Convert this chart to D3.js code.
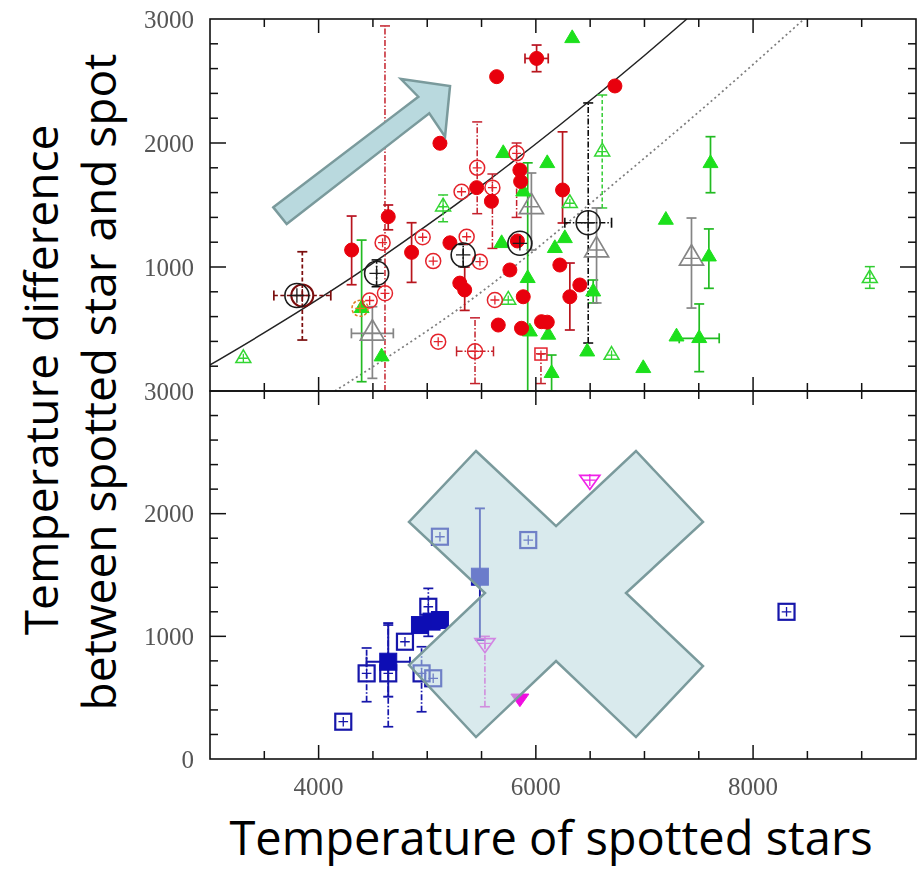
<!DOCTYPE html>
<html>
<head>
<meta charset="utf-8">
<script src="https://cdn.jsdelivr.net/npm/d3@7"></script>
<style>
  html, body { margin: 0; padding: 0; background: #fff; }
  svg { display: block; }
</style>
</head>
<body>
<svg id="chart" width="917" height="872"></svg>
<script>
// ---- data: [T_star, dT, errLow, errHigh, errT] (null = no bar) ----
const xTicksMajor = [4000, 6000, 8000];
const yTickLabelsTop = [1000, 2000, 3000];
const yTickLabelsBot = [0, 1000, 2000, 3000];

// upper panel
const redFilled = [
  [6007, 2682, 2575, 2790, 107], [5639, 2535], [5117, 1998],
  [4641, 1406, 1300, 1500], [4304, 1137, 857, 1411], [4856, 1118, 876, 1357],
  [5455, 1640], [5209, 1195], [5300, 870], [5345, 815, 650, 1000],
  [5591, 1530], [5654, 532], [5761, 976], [5884, 760], [5868, 506],
  [6052, 559], [6105, 555], [6313, 760, 492, 1032], [6405, 855],
  [6246, 1621, 1355, 2090], [6221, 1016], [6728, 2460], [5830, 1210],
  [5853, 1782], [5860, 1690]
];
const redOpen = [
  [4958, 1240], [5055, 1048], [4589, 1196], [4611, 788, 0, 2944],
  [5316, 1607], [5460, 1800, 1430, 2170], [5363, 1244], [5485, 1043],
  [5600, 1640, 1150, 1750], [5623, 734], [5101, 398],
  [5440, 320, 60, 590, 170], [5823, 1917, 1400, 2000], [4470, 730]
];
const orangeOpen = [[4381, 667]];
const redSquareOpen = [[6047, 298, 60, 300]];
const greenFilled = [
  [6335, 2844], [6105, 1836], [5884, 1607], [6175, 1151], [6267, 1231],
  [6528, 801, 710, 895], [6473, 317], [6989, 183], [7197, 1379],
  [7608, 1836, 1599, 2051], [7593, 1083, 828, 1307], [7295, 438],
  [7504, 425, 156, 702, 184], [4580, 277], [5925, 909, 0, 1840],
  [6145, 143, 0, 290], [5685, 1191], [5700, 1917], [5945, 478],
  [6114, 452], [4396, 667, 75, 1217]
];
const greenOpen = [
  [5146, 1486, 1365, 1581], [3307, 264], [6611, 1930, 1476, 2387],
  [6313, 1514], [6697, 290], [9075, 909, 828, 1003], [5746, 734]
];
const blackOpen = [
  [4534, 949, 841, 1057], [5331, 1097, 1003, 1182], [5853, 1191],
  [6482, 1357, 387, 2323, 215], [3800, 770]
];
const darkRedOpen = [[3850, 770, 411, 1123, 262]];
const greyOpen = [
  [4495, 465, 102, 680, 193], [5959, 1486, 1137, 1758],
  [6559, 1137, 710, 1476], [7433, 1070, 669, 1395]
];
// empirical relation (solid) and shifted relation (dotted)
const fitSolid = [[3000, 210], [3500, 470], [4200, 855], [5000, 1337], [5500, 1657], [6220, 2145], [7000, 2706], [7390, 3000]];
const fitDotted = [[4150, 0], [4700, 310], [5300, 669], [6000, 1144], [6617, 1597], [7500, 2250], [8470, 3000]];

// lower panel
const navyOpen = [
  [4227, 304], [4442, 698, 467, 905], [4641, 698, 263, 1092], [4795, 956],
  [5010, 1241, 1000, 1391], [4948, 698, 385, 915], [5055, 658],
  [5117, 1812], [5930, 1785], [8308, 1200]
];
const navyFilled = [
  [4641, 793, 508, 1108, 200], [4933, 1092], [5040, 1120], [5117, 1133],
  [5485, 1486, 970, 2043]
];
const magentaOpen = [[5531, 943, 426, 1000], [6497, 2274]];
const magentaFilled = [[5853, 495]];

// annotation shapes, in chart units (T, dT)
const arrowShape = [[3583, 1481], [4918, 2373], [4758, 2516], [5210, 2460], [5164, 2051], [5019, 2240], [3706, 1347]];
const crossShape = [[5449, 2511], [6186, 1899], [6922, 2511], [7539, 1932], [6830, 1353], [7539, 758],
                    [6922, 179], [6186, 799], [5449, 179], [4832, 766], [5532, 1353], [4832, 1932]];

// ---- layout ----
const L = 210, R = 916, TOP = 19, MID = 391, BOT = 759;
const svg = d3.select("#chart");
const x = d3.scaleLinear().domain([3000, 9500]).range([L, R]);
const yTop = d3.scaleLinear().domain([0, 3000]).range([MID, TOP]);
const yBot = d3.scaleLinear().domain([0, 3000]).range([BOT, MID]);

const defs = svg.append("defs");
defs.append("clipPath").attr("id", "clipTop").append("rect")
  .attr("x", L).attr("y", TOP).attr("width", R - L).attr("height", MID - TOP);
defs.append("clipPath").attr("id", "clipBot").append("rect")
  .attr("x", L).attr("y", MID).attr("width", R - L).attr("height", BOT - MID);
// slight softening of the plotted symbols
defs.append("filter").attr("id", "soft").append("feGaussianBlur").attr("stdDeviation", 0.45);

const gTop = svg.append("g").attr("clip-path", "url(#clipTop)").append("g").attr("filter", "url(#soft)");
const gBot = svg.append("g").attr("clip-path", "url(#clipBot)").append("g").attr("filter", "url(#soft)");

// fit curves
const lineTop = d3.line().x(d => x(d[0])).y(d => yTop(d[1])).curve(d3.curveMonotoneX);
gTop.append("path").attr("d", lineTop(fitDotted)).attr("fill", "none")
  .attr("stroke", "#7d7d7d").attr("stroke-width", 1.7).attr("stroke-dasharray", "2,3");
gTop.append("path").attr("d", lineTop(fitSolid)).attr("fill", "none")
  .attr("stroke", "#222").attr("stroke-width", 1.5);

const DASHDOT = "6,2,1.5,2", DASHED = "4,2.5";

function errorBars(g, y, rows, color, dash, width) {
  const cap = 5;
  rows.forEach(r => {
    const [t, v, lo, hi, xe] = r;
    if (lo != null && hi != null) {
      g.append("line").attr("x1", x(t)).attr("x2", x(t)).attr("y1", y(lo)).attr("y2", y(hi))
        .attr("stroke", color).attr("stroke-width", width).attr("stroke-dasharray", dash);
      [lo, hi].forEach(e => g.append("line").attr("x1", x(t) - cap).attr("x2", x(t) + cap)
        .attr("y1", y(e)).attr("y2", y(e)).attr("stroke", color).attr("stroke-width", width));
    }
    if (xe != null) {
      g.append("line").attr("x1", x(t - xe)).attr("x2", x(t + xe)).attr("y1", y(v)).attr("y2", y(v))
        .attr("stroke", color).attr("stroke-width", width).attr("stroke-dasharray", dash);
      [t - xe, t + xe].forEach(e => g.append("line").attr("x1", x(e)).attr("x2", x(e))
        .attr("y1", y(v) - cap).attr("y2", y(v) + cap).attr("stroke", color).attr("stroke-width", width));
    }
  });
}

function triPath(w, h, down) {
  const s = down ? -1 : 1;
  return `M0,${-s * 2 * h / 3}L${w},${s * h / 3}L${-w},${s * h / 3}Z`;
}

function markers(g, y, rows, shape, opt) {
  rows.forEach(r => {
    const cx = x(r[0]), cy = y(r[1]);
    const m = g.append("g").attr("transform", `translate(${cx},${cy})`);
    let el;
    if (shape === "circle") el = m.append("circle").attr("r", opt.size);
    else if (shape === "square") el = m.append("rect").attr("x", -opt.size).attr("y", -opt.size)
      .attr("width", 2 * opt.size).attr("height", 2 * opt.size);
    else if (shape === "tri") el = m.append("path").attr("d", triPath(opt.size, opt.size * 1.7, false));
    else if (shape === "triDown") el = m.append("path").attr("d", triPath(opt.size, opt.size * 1.4, true));
    if (opt.filled) el.attr("fill", opt.color).attr("stroke", opt.color).attr("stroke-width", 1);
    else {
      el.attr("fill", "none").attr("stroke", opt.color).attr("stroke-width", opt.sw || 1.5);
      if (opt.dash) el.attr("stroke-dasharray", opt.dash);
      const c = opt.size * 0.6;
      m.append("path").attr("d", `M${-c},0H${c}M0,${-c}V${c}`)
        .attr("stroke", opt.color).attr("stroke-width", 1.3);
    }
  });
}

// ---- upper panel marks ----
errorBars(gTop, yTop, greenOpen, "#33cc33", DASHED, 1.5);
errorBars(gTop, yTop, greenFilled, "#22bb22", null, 1.7);
errorBars(gTop, yTop, greyOpen, "#858585", null, 1.7);
errorBars(gTop, yTop, redOpen, "#c4202c", DASHDOT, 1.5);
errorBars(gTop, yTop, redSquareOpen, "#c4202c", DASHDOT, 1.5);
errorBars(gTop, yTop, redFilled, "#b8141e", null, 1.7);
errorBars(gTop, yTop, darkRedOpen, "#7a0a0a", DASHED, 1.7);
errorBars(gTop, yTop, blackOpen, "#111", DASHDOT, 1.6);

markers(gTop, yTop, greyOpen, "tri", { size: 12, color: "#858585", sw: 1.7 });
markers(gTop, yTop, greenOpen, "tri", { size: 7.5, color: "#33d633" });
markers(gTop, yTop, greenFilled, "tri", { size: 7.5, color: "#1fe01f", filled: true });
markers(gTop, yTop, orangeOpen, "circle", { size: 8, color: "#e07a20", dash: "3,2" });
markers(gTop, yTop, redOpen, "circle", { size: 7.5, color: "#e4242c" });
markers(gTop, yTop, redSquareOpen, "square", { size: 6, color: "#e4242c" });
markers(gTop, yTop, redFilled, "circle", { size: 7, color: "#e80008", filled: true });
markers(gTop, yTop, darkRedOpen, "circle", { size: 11, color: "#7a0a0a", sw: 2 });
markers(gTop, yTop, blackOpen, "circle", { size: 12, color: "#1a1a1a", sw: 1.6 });

// ---- lower panel marks ----
errorBars(gBot, yBot, magentaOpen, "#ee33dd", DASHDOT, 1.6);
errorBars(gBot, yBot, navyOpen, "#1515aa", DASHDOT, 1.7);
errorBars(gBot, yBot, navyFilled, "#1515aa", null, 1.9);
markers(gBot, yBot, navyOpen, "square", { size: 8, color: "#1515aa", sw: 2.2 });
markers(gBot, yBot, navyFilled, "square", { size: 8.5, color: "#0f0fb4", filled: true });
markers(gBot, yBot, magentaOpen, "triDown", { size: 10, color: "#f020e8", sw: 1.7 });
markers(gBot, yBot, magentaFilled, "triDown", { size: 9, color: "#f010e0", filled: true });

// ---- frames and ticks ----
function frame(y0, y1) {
  svg.append("rect").attr("x", L).attr("y", y1).attr("width", R - L).attr("height", y0 - y1)
    .attr("fill", "none").attr("stroke", "#111").attr("stroke-width", 1.6);
}
frame(MID, TOP);
frame(BOT, MID);

function ticks(y, y0, y1) {
  const gt = svg.append("g").attr("stroke", "#111").attr("stroke-width", 1.5);
  d3.range(3500, 9500, 500).forEach(t => {
    const major = xTicksMajor.includes(t);
    const len = major ? 14 : 8;
    gt.append("line").attr("x1", x(t)).attr("x2", x(t)).attr("y1", y0).attr("y2", y0 - len);
    gt.append("line").attr("x1", x(t)).attr("x2", x(t)).attr("y1", y1).attr("y2", y1 + len);
  });
  d3.range(200, 3000, 200).forEach(v => {
    const major = v % 1000 === 0;
    const len = major ? 16 : 8;
    gt.append("line").attr("x1", L).attr("x2", L + len).attr("y1", y(v)).attr("y2", y(v));
    gt.append("line").attr("x1", R).attr("x2", R - len).attr("y1", y(v)).attr("y2", y(v));
  });
}
ticks(yTop, MID, TOP);
ticks(yBot, BOT, MID);

// tick labels (the panels share the 3000/0 line, labelled once as 3000)
const labelFont = "'Liberation Serif', 'DejaVu Serif', serif";
function yLabels(y, values) {
  svg.append("g").selectAll("text").data(values).join("text")
    .attr("x", 194).attr("y", d => y(d)).attr("dy", "0.35em")
    .attr("text-anchor", "end").attr("font-family", labelFont).attr("font-size", 25)
    .attr("fill", "#555").text(d => d);
}
yLabels(yTop, yTickLabelsTop);
yLabels(yBot, yTickLabelsBot);
svg.append("g").selectAll("text").data(xTicksMajor).join("text")
  .attr("x", d => x(d)).attr("y", 795).attr("text-anchor", "middle")
  .attr("font-family", labelFont).attr("font-size", 25).attr("fill", "#555").text(d => d);

// ---- annotation shapes ----
const polyTop = d3.line().x(d => x(d[0])).y(d => yTop(d[1]));
const polyBot = d3.line().x(d => x(d[0])).y(d => yBot(d[1]));
svg.append("path").attr("d", polyTop(arrowShape) + "Z")
  .attr("fill", "#b9d9de").attr("stroke", "#7a9a9c").attr("stroke-width", 2.5).attr("stroke-linejoin", "miter");
svg.append("path").attr("d", polyBot(crossShape) + "Z")
  .attr("fill", "#b9d9de").attr("fill-opacity", 0.55)
  .attr("stroke", "#7a9a9c").attr("stroke-width", 2.5).attr("stroke-linejoin", "miter");

// ---- axis titles ----
const titleFont = "'Open Sans', 'Noto Sans', sans-serif";
svg.append("text").attr("transform", "translate(58,380) rotate(-90)")
  .attr("text-anchor", "middle").attr("font-family", titleFont).attr("font-size", 46)
  .attr("fill", "#000").text("Temperature difference");
svg.append("text").attr("transform", "translate(116,382) rotate(-90)")
  .attr("text-anchor", "middle").attr("font-family", titleFont).attr("font-size", 46)
  .attr("fill", "#000").text("between spotted star and spot");
svg.append("text").attr("x", 551).attr("y", 855)
  .attr("text-anchor", "middle").attr("font-family", titleFont).attr("font-size", 47)
  .attr("fill", "#000").text("Temperature of spotted stars");
</script>
</body>
</html>
